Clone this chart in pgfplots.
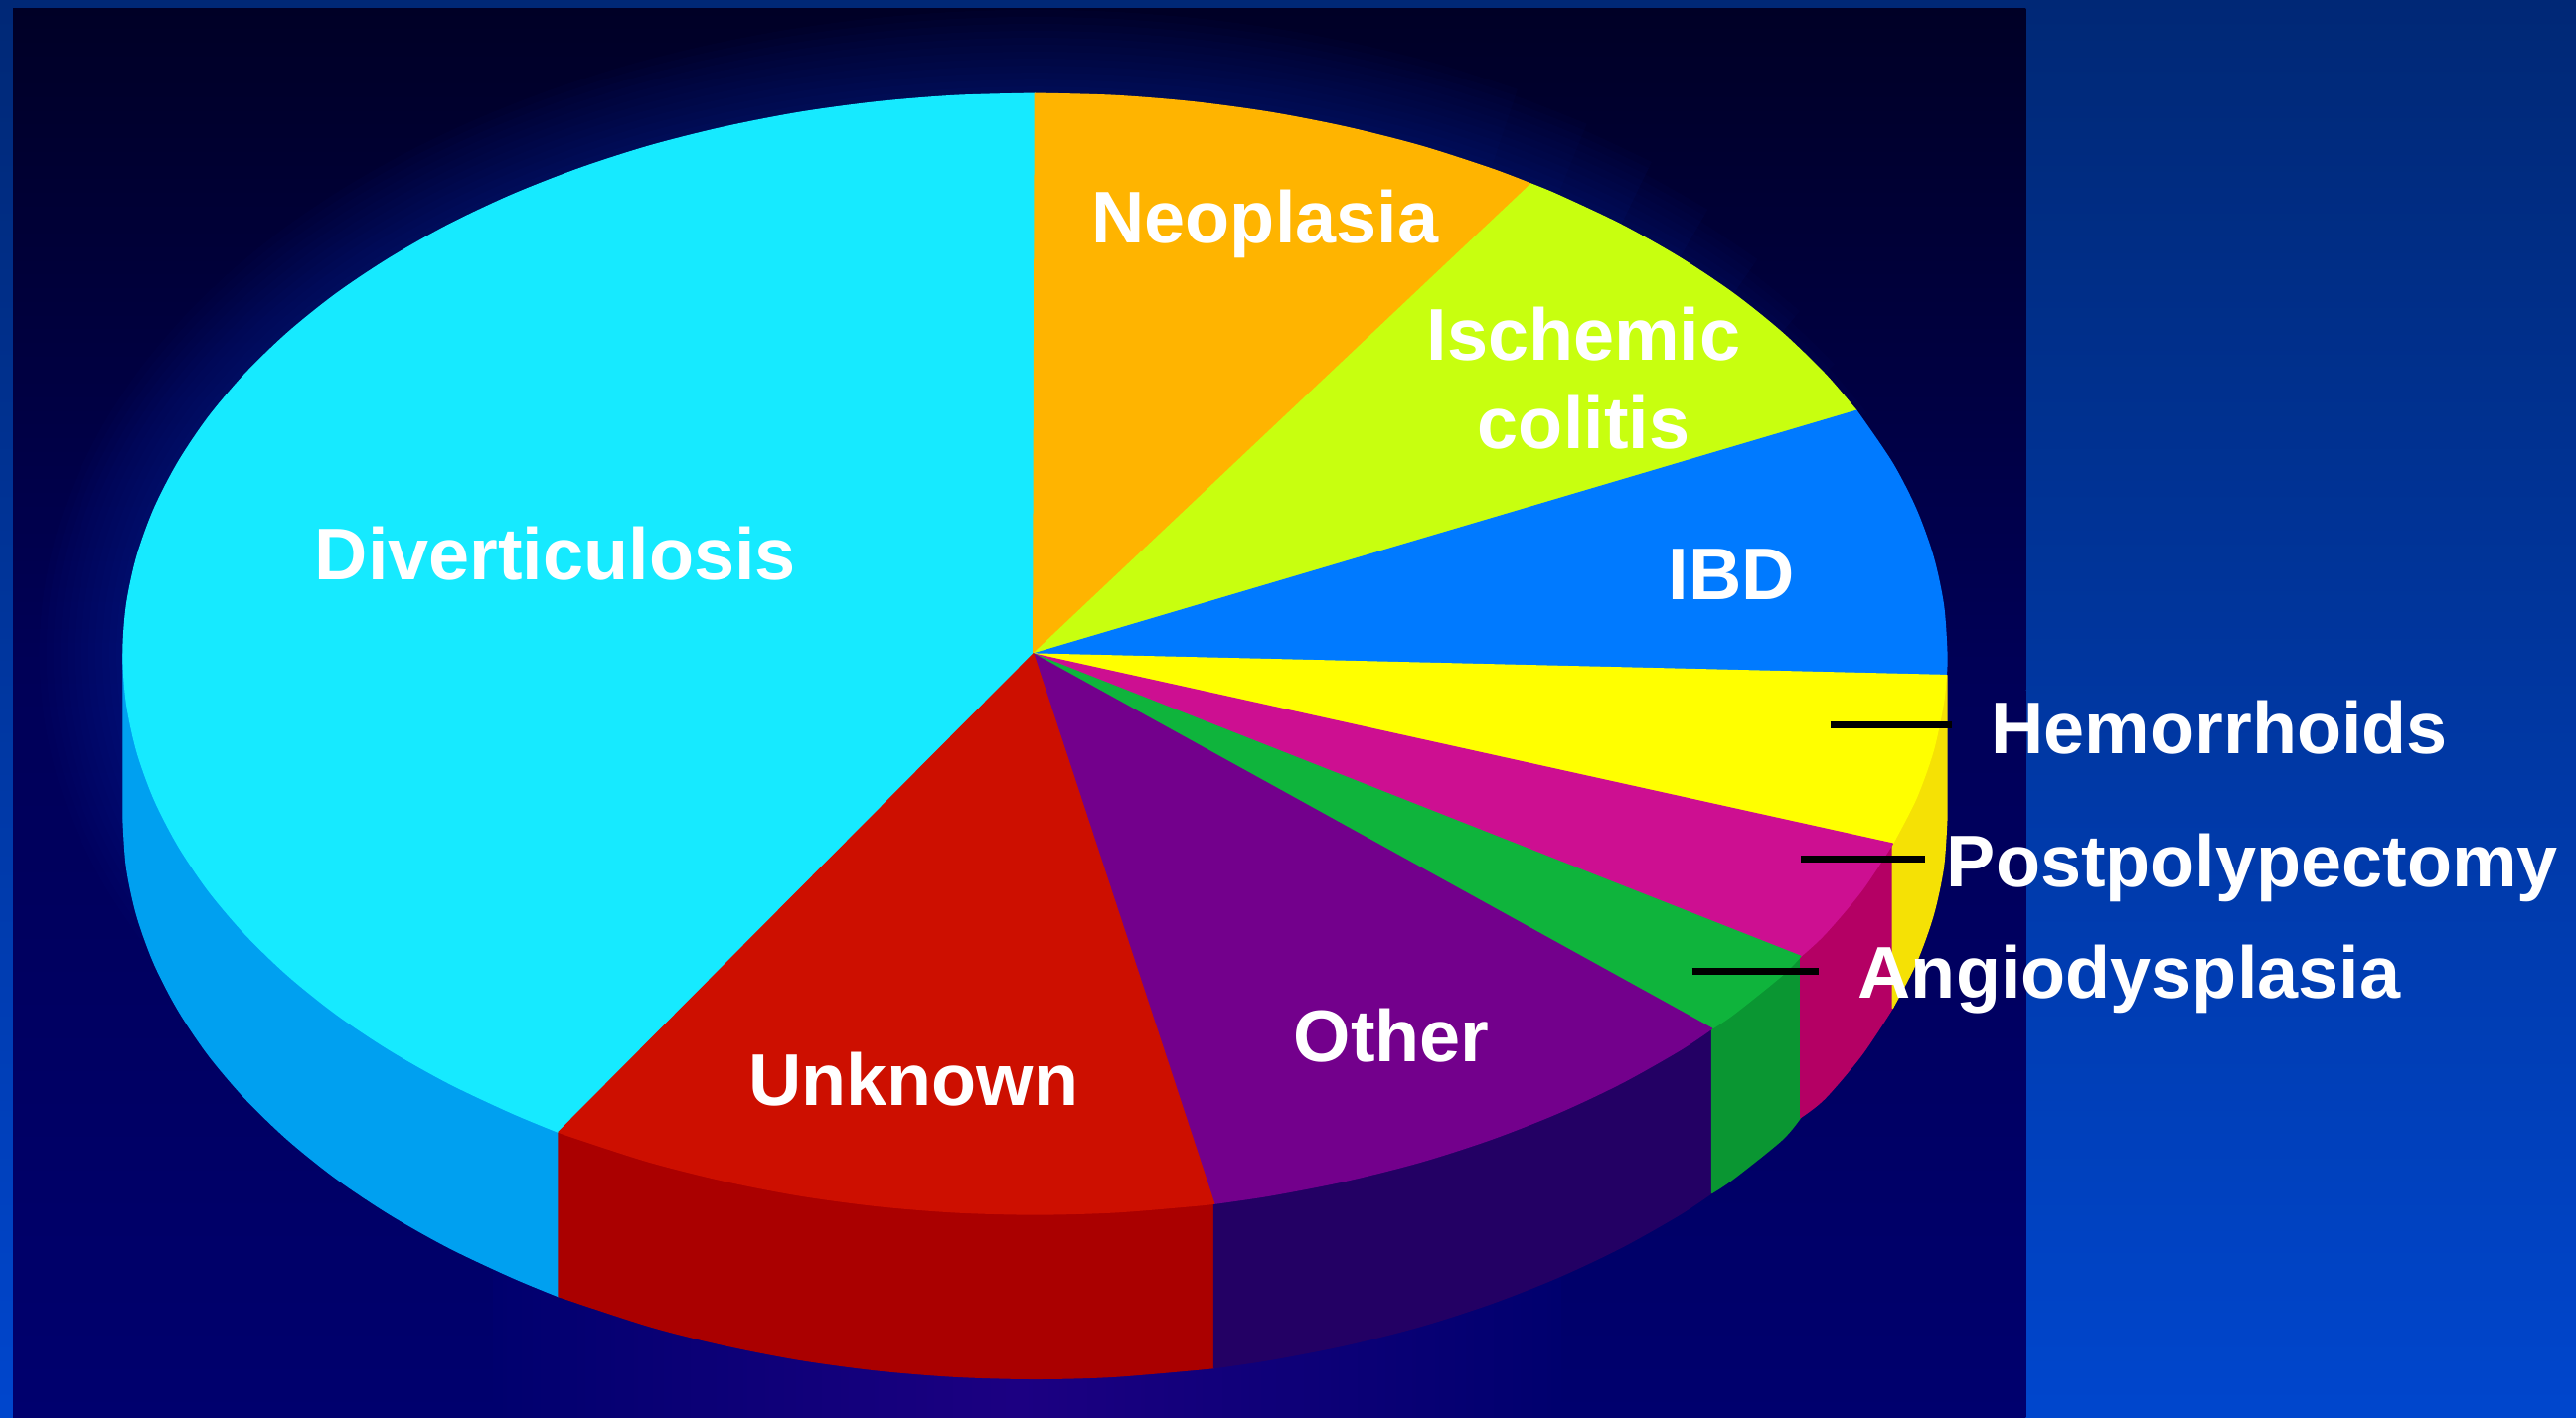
\documentclass[border=0pt]{standalone}
\usepackage{pgfplots}
\pgfplotsset{compat=1.18}
\usepackage{fontspec}
\setmainfont{Liberation Sans}
\definecolor{pTop}{RGB}{0,40,118}
\definecolor{pBot}{RGB}{0,70,205}
\definecolor{dTop}{RGB}{0,0,38}
\definecolor{dMid}{RGB}{0,0,88}
\definecolor{dBot}{RGB}{0,0,110}
\definecolor{dPur}{RGB}{28,0,130}
\definecolor{glow}{RGB}{0,50,170}
\definecolor{cDiv}{RGB}{22,234,255}
\definecolor{cNeo}{RGB}{255,180,0}
\definecolor{cIsc}{RGB}{200,255,15}
\definecolor{cIBD}{RGB}{0,122,255}
\definecolor{cHem}{RGB}{255,255,0}
\definecolor{cPos}{RGB}{205,15,145}
\definecolor{cAng}{RGB}{15,180,60}
\definecolor{cOth}{RGB}{115,0,140}
\definecolor{cUnk}{RGB}{205,15,0}
\definecolor{sDiv}{RGB}{0,160,240}
\definecolor{sHem}{RGB}{245,225,5}
\definecolor{sPos}{RGB}{180,0,100}
\definecolor{sAng}{RGB}{10,150,50}
\definecolor{sOth}{RGB}{35,0,100}
\definecolor{sUnk}{RGB}{170,0,0}
\newcommand{\lab}{\fontsize{21}{25}\selectfont\bfseries}
\newcommand{\rimA}{(127,542.1)(108.5,514.6)(93.9,486.3)(83.4,457.2)(77.1,427.7)(75,398)(77.1,368.3)(83.4,338.8)(93.9,309.7)(108.5,281.4)(127,253.9)(149.4,227.5)(175.4,202.4)(204.8,178.8)(237.6,156.9)(273.3,136.8)(311.7,118.7)(352.5,102.7)(395.4,88.9)(440.2,77.6)(486.4,68.6)(533.6,62.2)(581.6,58.3)(630,57)(678.4,58.3)(726.4,62.2)(773.6,68.6)(819.8,77.6)(864.6,88.9)(907.5,102.7)}
\tikzset{slice/.style={smooth,fill=#1,draw=#1,line width=0.4pt,line join=round},
         glowline/.style={smooth,draw=glow,line width=#1,opacity=0.036,line cap=butt,line join=round},
         lbl/.style={anchor=base,text=white,inner sep=0pt,outer sep=0pt},
         bar/.style={draw=black,line width=2pt}}
\begin{document}
\begin{tikzpicture}
\begin{axis}[scale only axis,width=25.92cm,height=14.27cm,
  xmin=0,xmax=1568,ymin=0,ymax=863,y dir=reverse,
  axis lines=none,no markers,clip=true]
% backgrounds
\addplot[draw=none,top color=pTop,bottom color=pBot] coordinates {(0,0)(1568,0)(1568,863)(0,863)} -- cycle;
\addplot[draw=none,top color=dTop,bottom color=dMid] coordinates {(8,5)(1233,5)(1233,420)(8,420)} -- cycle;
\addplot[draw=none,top color=dMid,bottom color=dBot] coordinates {(8,420)(1233,420)(1233,863)(8,863)} -- cycle;
\addplot[draw=none,left color=dBot,right color=dPur] coordinates {(300,770)(620,770)(620,863)(300,863)} -- cycle;
\addplot[draw=none,left color=dPur,right color=dBot] coordinates {(620,770)(950,770)(950,863)(620,863)} -- cycle;
% glow round the rim, the wide strokes ending first
\addplot[glowline=48pt] coordinates {\rimA};
\addplot[glowline=44pt] coordinates {\rimA(948.3,118.7)};
\addplot[glowline=40pt] coordinates {\rimA(948.3,118.7)(986.7,136.8)};
\addplot[glowline=36pt] coordinates {\rimA(948.3,118.7)(986.7,136.8)};
\addplot[glowline=32pt] coordinates {\rimA(948.3,118.7)(986.7,136.8)(1022.4,156.9)};
\addplot[glowline=28pt] coordinates {\rimA(948.3,118.7)(986.7,136.8)(1022.4,156.9)};
\addplot[glowline=24pt] coordinates {\rimA(948.3,118.7)(986.7,136.8)(1022.4,156.9)(1055.2,178.8)};
\addplot[glowline=20pt] coordinates {\rimA(948.3,118.7)(986.7,136.8)(1022.4,156.9)(1055.2,178.8)};
\addplot[glowline=16pt] coordinates {\rimA(948.3,118.7)(986.7,136.8)(1022.4,156.9)(1055.2,178.8)(1084.6,202.4)};
\addplot[glowline=12pt] coordinates {\rimA(948.3,118.7)(986.7,136.8)(1022.4,156.9)(1055.2,178.8)(1084.6,202.4)};
\addplot[glowline=8pt] coordinates {\rimA(948.3,118.7)(986.7,136.8)(1022.4,156.9)(1055.2,178.8)(1084.6,202.4)(1110.6,227.5)};
\addplot[glowline=4pt] coordinates {\rimA(948.3,118.7)(986.7,136.8)(1022.4,156.9)(1055.2,178.8)(1084.6,202.4)(1110.6,227.5)(1133,253.9)};
% side walls
\addplot[slice=sDiv] coordinates {(75,498)(77.1,527.7)(83.4,557.2)(93.9,586.3)(108.5,614.6)(127,642.1)(149.4,668.5)(175.4,693.6)(204.8,717.2)(237.6,739.1)(273.3,759.2)(311.7,777.3)(340,789)} -- (axis cs:340,689) -- (axis cs:75,398) -- cycle;
\addplot[slice=sUnk] coordinates {(340,789)(395.4,807.1)(440.2,818.4)(486.4,827.4)(533.6,833.8)(581.6,837.7)(630,839)(678.4,837.7)(739,832.5)} -- (axis cs:739,732.5) -- (axis cs:340,689) -- cycle;
\addplot[slice=sOth] coordinates {(739,832.5)(773.6,827.4)(819.8,818.4)(864.6,807.1)(907.5,793.3)(948.3,777.3)(986.7,759.2)(1022.4,739.1)(1042,726)} -- (axis cs:1042,626) -- (axis cs:739,732.5) -- cycle;
\addplot[slice=sAng] coordinates {(1042,726)(1055.2,717.2)(1084.6,693.6)(1096,680)} -- (axis cs:1096,582) -- (axis cs:1042,626) -- cycle;
\addplot[slice=sPos] coordinates {(1096,680)(1110.6,668.5)(1133,642.1)(1152,613.5)} -- (axis cs:1152,513.5) -- (axis cs:1096,582) -- cycle;
\addplot[slice=sHem] coordinates {(1152,613.5)(1166.1,586.3)(1176.6,557.2)(1182.9,527.7)(1185,498)} -- (axis cs:1185,411) -- (axis cs:1152,513.5) -- cycle;
% top face
\addplot[slice=cDiv] coordinates {(340,689)(311.7,677.3)(273.3,659.2)(237.6,639.1)(204.8,617.2)(175.4,593.6)(149.4,568.5)(127,542.1)(108.5,514.6)(93.9,486.3)(83.4,457.2)(77.1,427.7)(75,398)(77.1,368.3)(83.4,338.8)(93.9,309.7)(108.5,281.4)(127,253.9)(149.4,227.5)(175.4,202.4)(204.8,178.8)(237.6,156.9)(273.3,136.8)(311.7,118.7)(352.5,102.7)(395.4,88.9)(440.2,77.6)(486.4,68.6)(533.6,62.2)(581.6,58.3)(630,57)} -- (axis cs:629,398) -- cycle;
\addplot[slice=cNeo] coordinates {(630,57)(678.4,58.3)(726.4,62.2)(773.6,68.6)(819.8,77.6)(864.6,88.9)(907.5,102.7)(932,112)} -- (axis cs:629,398) -- cycle;
\addplot[slice=cIsc] coordinates {(932,112)(948.3,118.7)(986.7,136.8)(1022.4,156.9)(1055.2,178.8)(1084.6,202.4)(1110.6,227.5)(1130,250)} -- (axis cs:629,398) -- cycle;
\addplot[slice=cIBD] coordinates {(1130,250)(1151.5,281.4)(1166.1,309.7)(1176.6,338.8)(1182.9,368.3)(1185,398)(1184.6,411)} -- (axis cs:629,398) -- cycle;
\addplot[slice=cHem] coordinates {(1184.6,411)(1182.9,427.7)(1176.6,457.2)(1166.1,486.3)(1152,513.5)} -- (axis cs:629,398) -- cycle;
\addplot[slice=cPos] coordinates {(1152,513.5)(1133,542.1)(1110.6,568.5)(1096,582)} -- (axis cs:629,398) -- cycle;
\addplot[slice=cAng] coordinates {(1096,582)(1084.6,593.6)(1055.2,617.2)(1042,626)} -- (axis cs:629,398) -- cycle;
\addplot[slice=cOth] coordinates {(1042,626)(1022.4,639.1)(986.7,659.2)(948.3,677.3)(907.5,693.3)(864.6,707.1)(819.8,718.4)(773.6,727.4)(739,732.5)} -- (axis cs:629,398) -- cycle;
\addplot[slice=cUnk] coordinates {(739,732.5)(726.4,733.8)(678.4,737.7)(630,739)(581.6,737.7)(533.6,733.8)(486.4,727.4)(440.2,718.4)(395.4,707.1)(352.5,693.3)(340,689)} -- (axis cs:629,398) -- cycle;
% leader lines
\addplot[bar] coordinates {(1114,441)(1188,441)};
\addplot[bar] coordinates {(1096,523)(1172,523)};
\addplot[bar] coordinates {(1030,591)(1107,591)};
% labels
\node[lbl] at (axis cs:338,353) {\lab Diverticulosis};
\node[lbl] at (axis cs:770,148) {\lab Neoplasia};
\node[lbl] at (axis cs:964,219) {\lab Ischemic};
\node[lbl] at (axis cs:964,273) {\lab colitis};
\node[lbl] at (axis cs:1054,365) {\lab IBD};
\node[lbl] at (axis cs:1351,459) {\lab Hemorrhoids};
\node[lbl] at (axis cs:1371,540) {\lab Postpolypectomy};
\node[lbl] at (axis cs:1296,607.5) {\lab Angiodysplasia};
\node[lbl] at (axis cs:847,646) {\lab Other};
\node[lbl] at (axis cs:556,673) {\lab Unknown};
\end{axis}
\end{tikzpicture}
\end{document}
